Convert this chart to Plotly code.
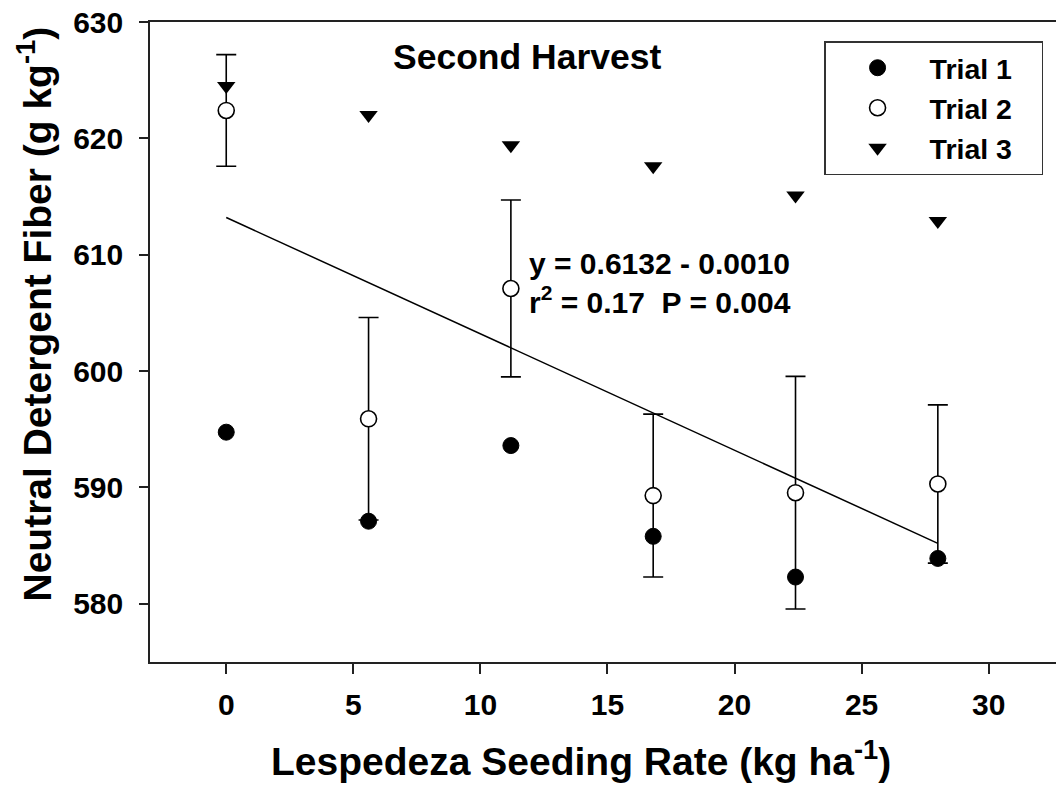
import plotly.graph_objects as go

# Seeding rates (kg ha-1)
rates = [0, 5.6, 11.2, 16.8, 22.4, 28]

# Neutral detergent fiber (g kg-1) per trial
trial1 = [594.75, 587.1, 593.6, 585.8, 582.3, 583.9]
trial2 = [622.4, 595.9, 607.1, 589.3, 589.55, 590.3]
trial2_err = [4.8, 8.7, 7.6, 7.0, 10.0, 6.8]
trial3 = [624.5, 622.0, 619.4, 617.6, 615.1, 612.9]

# Regression: y = 0.6132 - 0.0010 x (kg kg-1), expressed in g kg-1
reg_intercept = 613.2
reg_slope = -1.0
reg_x = [0, 28]
reg_y = [reg_intercept + reg_slope * v for v in reg_x]

FONT = "Arial, Liberation Sans, Helvetica, sans-serif"
PAD = "&nbsp;&nbsp;&nbsp;"

fig = go.Figure()

fig.add_trace(go.Scatter(
    x=reg_x, y=reg_y, mode="lines",
    line=dict(color="black", width=1.5),
    showlegend=False, hoverinfo="skip",
))

fig.add_trace(go.Scatter(
    x=rates, y=trial1, mode="markers", name="Trial 1" + PAD,
    marker=dict(symbol="circle", size=16, color="black",
                line=dict(color="black", width=1)),
))

fig.add_trace(go.Scatter(
    x=rates, y=trial2, mode="markers", name="Trial 2" + PAD,
    marker=dict(symbol="circle", size=16, color="white",
                line=dict(color="black", width=1.6)),
    error_y=dict(type="data", array=trial2_err, visible=True,
                 color="black", thickness=1.6, width=10),
))

fig.add_trace(go.Scatter(
    x=rates, y=trial3, mode="markers", name="Trial 3" + PAD,
    marker=dict(symbol="triangle-down", size=16, color="black",
                line=dict(color="black", width=0)),
))

fig.add_annotation(
    x=11.85, y=627.0, xref="x", yref="y",
    text="Second Harvest", showarrow=False,
    font=dict(family=FONT, size=35.5, color="black", weight="bold"),
    xanchor="center", yanchor="middle",
)
# Regression equation and fit statistics
fig.add_annotation(
    x=11.85, y=607.55, xref="x", yref="y",
    text="y = 0.6132 - 0.0010<br>r<sup>2</sup> = 0.17&nbsp;&nbsp;P = 0.004",
    showarrow=False, align="left",
    font=dict(family=FONT, size=30, color="black", weight="bold"),
    xanchor="left", yanchor="middle",
)

# Axis titles
fig.add_annotation(
    x=0.4757, y=-0.151, xref="paper", yref="paper",
    text="Lespedeza Seeding Rate (kg ha<sup>-1</sup>)", showarrow=False,
    font=dict(family=FONT, size=39, color="black", weight="bold"),
    xanchor="center", yanchor="middle",
)
fig.add_annotation(
    x=-0.128, y=0.543, xref="paper", yref="paper",
    text="Neutral Detergent Fiber (g kg<sup>-1</sup>)", showarrow=False,
    textangle=-90,
    font=dict(family=FONT, size=39, color="black", weight="bold"),
    xanchor="center", yanchor="middle",
)

fig.update_layout(
    width=1056, height=790,
    margin=dict(l=150, r=0, t=22, b=128),
    paper_bgcolor="white", plot_bgcolor="white",
    font=dict(family=FONT, color="black"),
    showlegend=True,
    legend=dict(
        x=0.744, y=0.97, xanchor="left", yanchor="top",
        bgcolor="white", bordercolor="#333333", borderwidth=1.5,
        font=dict(family=FONT, size=28.5, color="black", weight="bold"),
        itemwidth=94, traceorder="normal",
    ),
)

fig.update_xaxes(
    range=[-3, 32.65], showgrid=False, zeroline=False,
    showline=True, linecolor="#222222", linewidth=1.5, mirror=True,
    ticks="outside", ticklen=10, tickwidth=1.5, tickcolor="#222222",
    tickvals=[0, 5, 10, 15, 20, 25, 30],
    tickfont=dict(family=FONT, size=30, color="black", weight="bold"),
    ticklabelstandoff=5,
)
fig.update_yaxes(
    range=[575, 630], showgrid=False, zeroline=False,
    showline=True, linecolor="#222222", linewidth=1.5, mirror=False,
    ticks="outside", ticklen=9, tickwidth=1.5, tickcolor="#222222",
    tickvals=[580, 590, 600, 610, 620, 630],
    tickfont=dict(family=FONT, size=30, color="black", weight="bold"),
    ticklabelstandoff=10,
)

fig.write_html("out.html")
